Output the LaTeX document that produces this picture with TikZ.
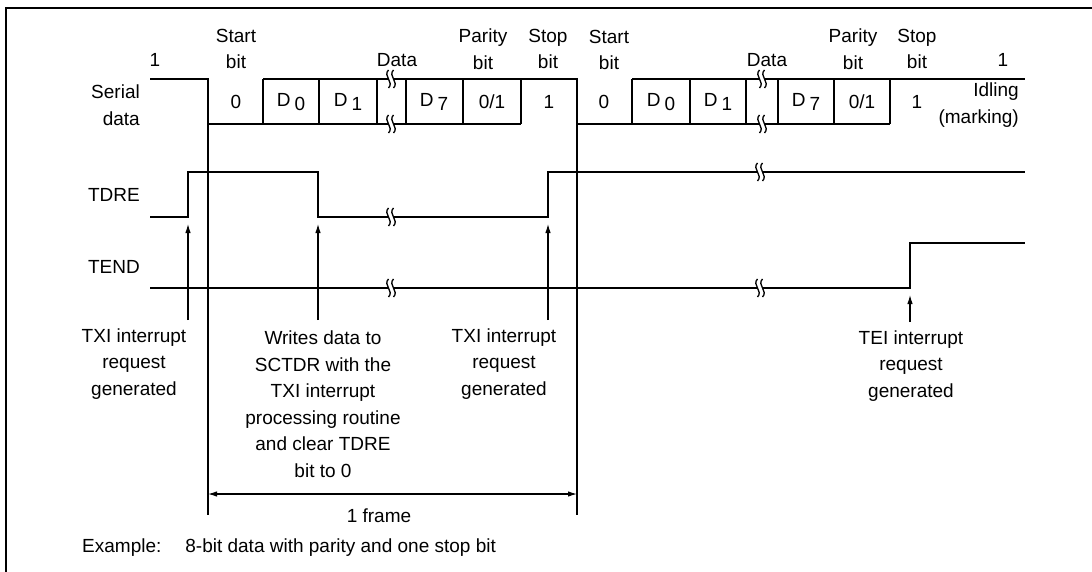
\documentclass[tikz,border=0pt]{standalone}
\usepackage{fontspec}
\setmainfont{Liberation Sans}
\usetikzlibrary{arrows.meta}
\newcommand{\dsub}[1]{D\hspace{4pt}\raisebox{-4pt}{#1}}

\begin{document}
\begin{tikzpicture}[x=1pt, y=-1pt,
  font=\fontsize{19}{26.5}\selectfont,
  sig/.style={line width=2pt, line join=miter},
  guide/.style={line width=1.1pt},
  arr/.style={-{Latex[length=9pt,width=5.5pt]}, line width=1.1pt},
  span/.style={{Latex[length=9pt,width=5.5pt]}-{Latex[length=9pt,width=5.5pt]}, line width=1.1pt},
  txt/.style={inner sep=0pt, align=center},
  brk/.pic={
    \fill[white] (-2.5,-9) .. controls (-8.5,-3) and (3.5,3) .. (-2.5,9) -- (2.5,9) .. controls (-3.5,3) and (8.5,-3) .. (2.5,-9) -- cycle;
    \draw[line width=1.3pt] (-2.5,-9) .. controls (-8.5,-3) and (3.5,3) .. (-2.5,9);
    \draw[line width=1.3pt] (2.5,-9) .. controls (-3.5,-3) and (8.5,3) .. (2.5,9);
  },
]
\useasboundingbox (0,0) rectangle (1092,572);
\draw[line width=2.2pt] (6,572) -- (6,8) -- (1092,8);

\node[txt, anchor=east, align=right] (serial) at (140,105) {Serial\\data};
\node[txt, anchor=east] (tdre) at (140,195) {TDRE};
\node[txt, anchor=east] (tend) at (140,267) {TEND};

\node[txt] (one1) at (155,60) {1};
\node[txt] (start1) at (236,49) {Start\\bit};
\node[txt] (data1) at (397,60) {Data};
\node[txt] (par1) at (483,49) {Parity\\bit};
\node[txt] (stop1) at (548,49) {Stop\\bit};
\node[txt] (start2) at (609,50) {Start\\bit};
\node[txt] (data2) at (767,60) {Data};
\node[txt] (par2) at (853,49) {Parity\\bit};
\node[txt] (stop2) at (917,49) {Stop\\bit};
\node[txt] (one2) at (1003,60) {1};
\node[txt, anchor=east, align=right] (idle) at (1019,105) {Idling\\(marking)};

\foreach \x/\t [count=\i] in {236/0, 291/\dsub{0}, 348/\dsub{1}, 434/\dsub{7}, 492/{0/1}, 549/1,
  604/0, 661/\dsub{0}, 718/\dsub{1}, 806/\dsub{7}, 862/{0/1}, 917/1}
  \node[txt] (bit\i) at (\x,102) {\t};

% serial data
\draw[sig] (150,79) -- (208,79) -- (208,124) -- (521,124);
\draw[sig] (263,79) -- (577,79) -- (577,124) -- (890,124);
\draw[sig] (632,79) -- (1025,79);
\foreach \x in {263,319,377,406,463,521,632,690,746,778,834,890}
  \draw[sig] (\x,79) -- (\x,124);

% TDRE and TEND
\draw[sig] (150,217) -- (188,217) -- (188,172) -- (318,172) -- (318,217) -- (548,217) -- (548,172) -- (1025,172);
\draw[sig] (150,288) -- (910,288) -- (910,243) -- (1025,243);

\foreach \x/\y in {391/79, 391/124, 762/79, 762/124, 391/217, 760/172, 391/288, 760/288}
  \pic at (\x,\y) {brk};

\draw[guide] (208,124) -- (208,515);
\draw[guide] (577,124) -- (577,515);

\coordinate (up1) at (188,224);  \coordinate (lo1) at (188,320);
\coordinate (up2) at (318,224);  \coordinate (lo2) at (318,320);
\coordinate (up3) at (548,224);  \coordinate (lo3) at (548,320);
\coordinate (up4) at (910,295);  \coordinate (lo4) at (910,322);
\draw[arr] (lo1) -- (up1);
\draw[arr] (lo2) -- (up2);
\draw[arr] (lo3) -- (up3);
\draw[arr] (lo4) -- (up4);

\node[txt] (txi1) at (134,364) {TXI interrupt\\request\\generated};
\node[txt] (wr) at (323,404) {Writes data to\\SCTDR with the\\TXI interrupt\\processing routine\\and clear TDRE\\bit to 0};
\node[txt] (txi2) at (504,364) {TXI interrupt\\request\\generated};
\node[txt] (tei) at (911,366) {TEI interrupt\\request\\generated};

\coordinate (fl) at (208,494);
\coordinate (fr) at (577,494);
\draw[span] (fl) -- (fr);
\node[txt] (frame) at (379,516) {1 frame};

\node[txt, anchor=west] (ex) at (82,548) {Example:\hspace{24pt}8-bit data with parity and one stop bit};
\end{tikzpicture}
\end{document}
